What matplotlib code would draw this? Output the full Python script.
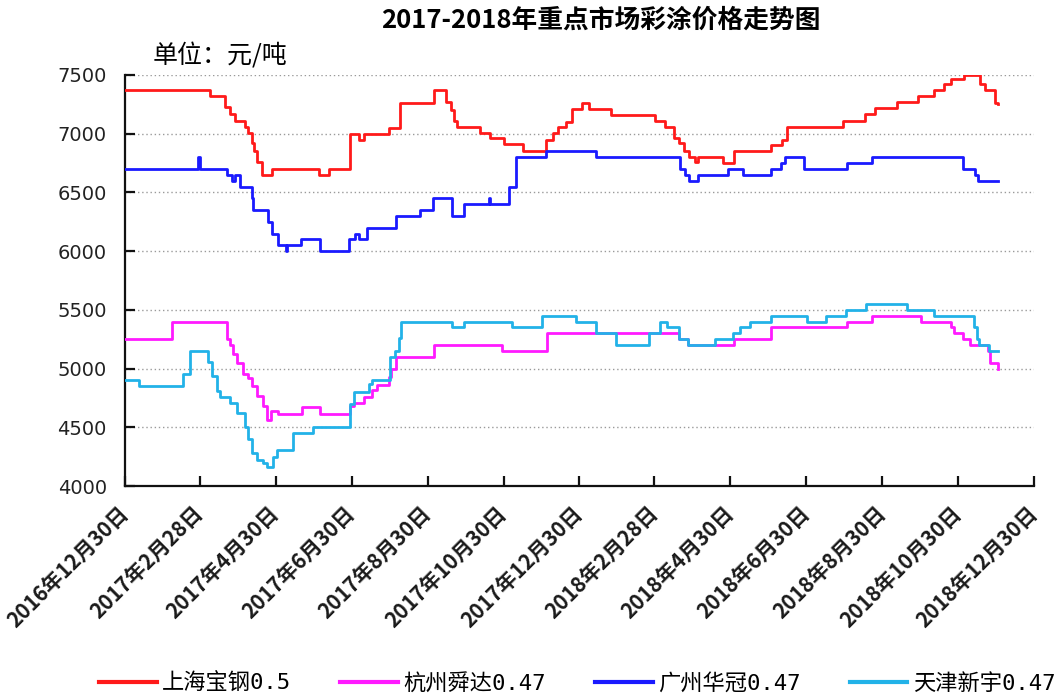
import matplotlib
matplotlib.use('Agg')
import matplotlib.pyplot as plt
from matplotlib.font_manager import FontProperties
import pandas as pd

plt.rcParams['font.family'] = ['Noto Sans CJK SC', 'DejaVu Sans']

title = '2017-2018年重点市场彩涂价格走势图'
unit_label = '单位：元/吨'

series_names = ['上海宝钢0.5', '杭州舜达0.47', '广州华冠0.47', '天津新宇0.47']
series_colors = ['#ff1a1a', '#ff1aff', '#1a1aff', '#22b2e8']

# 上海宝钢 (breakpoints: value holds from the date on)
red_dates = ['2016-12-30', '2017-03-08', '2017-03-20', '2017-03-24', '2017-03-28', '2017-04-05',
             '2017-04-08', '2017-04-11', '2017-04-13', '2017-04-15', '2017-04-19', '2017-04-27',
             '2017-06-04', '2017-06-12', '2017-06-29', '2017-07-06', '2017-07-10', '2017-07-30',
             '2017-08-08', '2017-09-04', '2017-09-14', '2017-09-18', '2017-09-20', '2017-09-23',
             '2017-10-11', '2017-10-19', '2017-10-30', '2017-11-15', '2017-12-03', '2017-12-09',
             '2017-12-13', '2017-12-19', '2017-12-24', '2018-01-01', '2018-01-07', '2018-01-24',
             '2018-03-01', '2018-03-09', '2018-03-16', '2018-03-20', '2018-03-24', '2018-03-28',
             '2018-04-02', '2018-04-04', '2018-04-24', '2018-05-03', '2018-06-02', '2018-06-11',
             '2018-06-15', '2018-07-30', '2018-08-16', '2018-08-24', '2018-09-11', '2018-09-28',
             '2018-10-11', '2018-10-19', '2018-10-24', '2018-11-04', '2018-11-17', '2018-11-21',
             '2018-11-29', '2018-12-01']
red_vals = [7370, 7320, 7230, 7170, 7110, 7060,
            7010, 6920, 6850, 6760, 6650, 6700,
            6650, 6700, 7000, 6950, 7000, 7050,
            7260, 7370, 7270, 7200, 7110, 7060,
            7010, 6960, 6910, 6850, 6950, 7010,
            7060, 7100, 7210, 7260, 7210, 7160,
            7110, 7060, 6960, 6920, 6850, 6800,
            6760, 6800, 6750, 6850, 6900, 6950,
            7060, 7110, 7170, 7220, 7270, 7320,
            7370, 7420, 7470, 7500, 7420, 7370,
            7260, 7250]

# 杭州舜达
mag_dates = ['2016-12-30', '2017-02-06', '2017-03-22', '2017-03-24', '2017-03-27', '2017-03-30',
             '2017-04-04', '2017-04-08', '2017-04-11', '2017-04-15', '2017-04-20', '2017-04-23',
             '2017-04-26', '2017-05-02', '2017-05-21', '2017-06-05', '2017-06-29', '2017-07-02',
             '2017-07-10', '2017-07-16', '2017-07-20', '2017-07-30', '2017-08-01', '2017-08-05',
             '2017-09-04', '2017-10-29', '2017-12-04', '2018-03-20', '2018-03-27', '2018-05-03',
             '2018-06-02', '2018-08-02', '2018-08-22', '2018-09-30', '2018-10-24', '2018-10-27',
             '2018-11-03', '2018-11-09', '2018-11-23', '2018-11-25', '2018-12-01']
mag_vals = [5250, 5400, 5250, 5200, 5120, 5050,
            4950, 4920, 4850, 4770, 4680, 4560,
            4640, 4610, 4670, 4610, 4680, 4710,
            4760, 4820, 4860, 4930, 5000, 5100,
            5200, 5150, 5300, 5250, 5200, 5250,
            5350, 5400, 5450, 5400, 5350, 5300,
            5250, 5200, 5150, 5050, 5000]

# 广州华冠
blue_dates = ['2016-12-30', '2017-02-27', '2017-02-28', '2017-03-22', '2017-03-26', '2017-03-28',
              '2017-04-01', '2017-04-11', '2017-04-12', '2017-04-24', '2017-04-27', '2017-05-02',
              '2017-05-08', '2017-05-09', '2017-05-20', '2017-06-05', '2017-06-28', '2017-07-03',
              '2017-07-06', '2017-07-12', '2017-08-05', '2017-08-24', '2017-09-03', '2017-09-19',
              '2017-09-28', '2017-10-18', '2017-10-19', '2017-11-03', '2017-11-09', '2017-12-03',
              '2018-01-12', '2018-03-21', '2018-03-25', '2018-03-28', '2018-04-04', '2018-04-28',
              '2018-05-10', '2018-06-02', '2018-06-10', '2018-06-13', '2018-06-28', '2018-08-02',
              '2018-08-22', '2018-11-03', '2018-11-13', '2018-11-15', '2018-12-01']
blue_vals = [6700, 6800, 6700, 6650, 6600, 6650,
             6550, 6450, 6350, 6250, 6150, 6050,
             6000, 6050, 6100, 6000, 6100, 6150,
             6100, 6200, 6300, 6350, 6450, 6300,
             6400, 6450, 6400, 6550, 6800, 6850,
             6800, 6700, 6650, 6600, 6650, 6700,
             6650, 6700, 6750, 6800, 6700, 6750,
             6800, 6700, 6650, 6600, 6600]

# 天津新宇
cyan_dates = ['2016-12-30', '2017-01-10', '2017-02-15', '2017-02-20', '2017-03-07', '2017-03-10',
              '2017-03-14', '2017-03-16', '2017-03-24', '2017-03-30', '2017-04-05', '2017-04-08',
              '2017-04-11', '2017-04-15', '2017-04-20', '2017-04-23', '2017-04-28', '2017-05-01',
              '2017-05-14', '2017-05-30', '2017-06-29', '2017-07-02', '2017-07-14', '2017-07-16',
              '2017-07-31', '2017-08-04', '2017-08-07', '2017-08-09', '2017-09-19', '2017-09-28',
              '2017-11-06', '2017-11-30', '2017-12-27', '2018-01-12', '2018-01-28', '2018-02-24',
              '2018-03-05', '2018-03-10', '2018-03-20', '2018-03-27', '2018-04-18', '2018-05-02',
              '2018-05-08', '2018-05-16', '2018-06-02', '2018-07-01', '2018-07-16', '2018-08-01',
              '2018-08-17', '2018-09-19', '2018-10-11', '2018-11-12', '2018-11-14', '2018-11-16',
              '2018-11-24', '2018-12-01']
cyan_vals = [4900, 4850, 4950, 5150, 5060, 4940,
             4810, 4760, 4710, 4620, 4500, 4400,
             4280, 4220, 4200, 4160, 4250, 4310,
             4450, 4500, 4700, 4800, 4870, 4900,
             5100, 5150, 5260, 5400, 5350, 5400,
             5350, 5450, 5400, 5300, 5200, 5300,
             5400, 5350, 5250, 5200, 5250, 5300,
             5350, 5400, 5450, 5400, 5450, 5500,
             5550, 5500, 5450, 5350, 5250, 5200,
             5150, 5150]

tick_dates = ['2016-12-30', '2017-02-28', '2017-04-30', '2017-06-30', '2017-08-30', '2017-10-30',
              '2017-12-30', '2018-02-28', '2018-04-30', '2018-06-30', '2018-08-30', '2018-10-30',
              '2018-12-30']
tick_labels = ['2016年12月30日', '2017年2月28日', '2017年4月30日', '2017年6月30日', '2017年8月30日',
               '2017年10月30日', '2017年12月30日', '2018年2月28日', '2018年4月30日', '2018年6月30日',
               '2018年8月30日', '2018年10月30日', '2018年12月30日']
y_ticks = [4000, 4500, 5000, 5500, 6000, 6500, 7000, 7500]

fig = plt.figure(figsize=(10.59, 6.97), dpi=100)
ax = fig.add_axes([0.118, 0.3027, 0.8584, 0.5897])

all_dates = [red_dates, mag_dates, blue_dates, cyan_dates]
all_vals = [red_vals, mag_vals, blue_vals, cyan_vals]
handles = []
for d, v, c, n in zip(all_dates, all_vals, series_colors, series_names):
    h, = ax.step(pd.to_datetime(d), v, where='post', color=c, lw=2.0, label=n, zorder=3)
    handles.append(h)

ax.set_xlim(pd.Timestamp(tick_dates[0]), pd.Timestamp(tick_dates[-1]))
ax.set_ylim(y_ticks[0], y_ticks[-1])
ax.set_yticks(y_ticks)
ax.set_xticks(pd.to_datetime(tick_dates))
ax.set_xticklabels(tick_labels, rotation=45, ha='right', va='center', rotation_mode='anchor',
                   fontsize=15, fontweight='bold', color='#1a1a1a')
for lbl in ax.get_yticklabels():
    lbl.set_fontfamily('DejaVu Sans')
    lbl.set_fontsize(14)
    lbl.set_color('#222222')

ax.yaxis.grid(True, color='#9a9a9a', linestyle=(0, (1, 2)), linewidth=1.0)
ax.xaxis.grid(False)
for s in ['top', 'right']:
    ax.spines[s].set_visible(False)
for s in ['left', 'bottom']:
    ax.spines[s].set_linewidth(1.6)
    ax.spines[s].set_color('#111111')
ax.tick_params(axis='both', direction='in', length=7, width=1.6, color='#111111')
ax.tick_params(axis='y', pad=13)
ax.tick_params(axis='x', pad=17)

fig.text(0.567, 0.971, title, ha='center', va='center', fontsize=18.5, fontweight='bold')
fig.text(153 / 1059, 1 - 56 / 697, unit_label, ha='left', va='center', fontsize=18)

leg_prop = FontProperties(family=['DejaVu Sans Mono', 'Noto Sans CJK SC'], size=16)
leg = fig.legend(handles, series_names, loc='center', bbox_to_anchor=(0.545, 0.02), ncol=4,
                 frameon=False, prop=leg_prop, handlelength=2.6, columnspacing=2.2,
                 handletextpad=0.25)
for l in leg.get_lines():
    l.set_linewidth(3)

fig.savefig('out.png', dpi=100)
